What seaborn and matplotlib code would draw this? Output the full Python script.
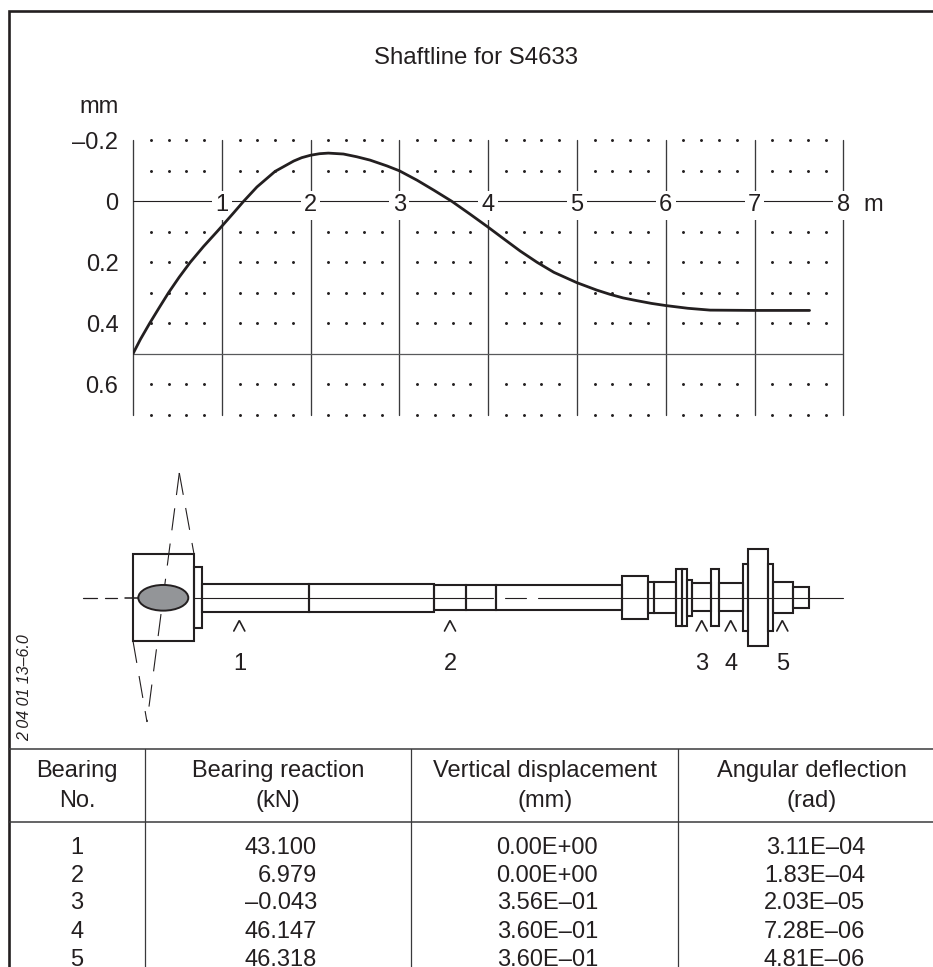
import matplotlib
matplotlib.use("Agg")
import matplotlib.pyplot as plt
from matplotlib.patches import Rectangle, Ellipse
import numpy as np
import pandas as pd
import seaborn as sns

# ---- data ----
curve_x = [0, 0.083, 0.188, 0.295, 0.40, 0.52, 0.645, 0.795, 0.945, 1.0, 1.133, 1.246, 1.396, 1.60, 1.81, 1.90, 2.0, 2.10, 2.2, 2.37,
           2.52, 2.67, 2.86, 3.0, 3.2, 3.39, 3.59, 3.8, 4.0, 4.17, 4.36, 4.55, 4.74, 5.0, 5.22, 5.37, 5.52, 5.675,
           5.84, 6.0, 6.25, 6.5, 7.0, 7.62]
curve_y = [0.5, 0.453, 0.40, 0.349, 0.30, 0.249, 0.20, 0.148, 0.10, 0.082, 0.038, 0.0, -0.047, -0.098, -0.132, -0.143, -0.151, -0.156, -0.158, -0.155,
           -0.146, -0.135, -0.116, -0.10, -0.069, -0.036, 0.0, 0.043, 0.085, 0.122, 0.163, 0.20, 0.233, 0.267, 0.291, 0.305, 0.317, 0.326,
           0.335, 0.342, 0.351, 0.357, 0.358, 0.358]
y_ticks = [-0.2, 0, 0.2, 0.4, 0.6]
y_tick_labels = ["–0.2", "0", "0.2", "0.4", "0.6"]
x_numbers = [1, 2, 3, 4, 5, 6, 7, 8]
dot_x = [i + f for i in range(8) for f in (0.2, 0.4, 0.6, 0.8)]
dot_y = [-0.2, -0.1, 0.1, 0.2, 0.3, 0.4, 0.6, 0.7]

bearing_no = ["1", "2", "3", "4", "5"]
reaction = ["43.100", "6.979", "–0.043", "46.147", "46.318"]
displacement = ["0.00E+00", "0.00E+00", "3.56E–01", "3.60E–01", "3.60E–01"]
deflection = ["3.11E–04", "1.83E–04", "2.03E–05", "7.28E–06", "4.81E–06"]
headers = [("Bearing", "No."), ("Bearing reaction", "(kN)"),
           ("Vertical displacement", "(mm)"), ("Angular deflection", "(rad)")]

# shaft sections: left, right, top, bottom (drawing units)
shaft_boxes = [
    (132.7, 194, 554.3, 641), (194, 201.7, 566.7, 628.3), (201.7, 309, 584, 611.5),
    (309, 434, 584, 611.5), (434, 465.7, 585, 610.3), (465.7, 495.5, 585, 610.3),
    (495.5, 622.3, 584.7, 610.3), (622.3, 647.7, 575.7, 619.3), (647.7, 654.3, 582, 612.7),
    (654.3, 676.3, 582, 612.7), (676.3, 681.7, 569.3, 626), (681.7, 687, 569.3, 626),
    (687, 691.7, 579.7, 616), (691.7, 710.7, 583.3, 611.3), (710.7, 718.7, 569.3, 626),
    (718.7, 742.7, 583.3, 611.3), (742.7, 748, 564, 631), (748, 767.7, 549, 646),
    (767.7, 773, 564, 631), (773, 792.7, 582, 612.7), (792.7, 809.3, 587.3, 608),
]
caret_x = [239.3, 450, 701.7, 730.7, 782.3]
caret_labels = ["1", "2", "3", "4", "5"]
label_x = [240, 450, 702, 731, 783]

sns.set_style("white")
plt.rcParams["font.family"] = ["Liberation Sans", "DejaVu Sans"]
INK = "#231f20"
FS = 17
W, H = 933, 967

fig = plt.figure(figsize=(W / 100, H / 100), dpi=100, facecolor="white")

# ---- overlay in pixel-like drawing units ----
ov = fig.add_axes([0, 0, 1, 1])
ov.set_xlim(0, W)
ov.set_ylim(H, 0)
ov.axis("off")
ov.plot([9, 9, W], [H, 10.5, 10.5], color=INK, lw=1.9, solid_joinstyle="miter")
ov.text(476, 58, "Shaftline for S4633", ha="center", va="center", fontsize=17.3, color=INK)
ov.text(99.5, 107, "mm", ha="center", va="center", fontsize=FS, color=INK)
ov.text(873, 205, "m", ha="center", va="center", fontsize=FS, color=INK)

# shaft drawing
LW = 1.5
ov.plot([83, 97], [597.7, 597.7], color=INK, lw=0.9)
ov.plot([105, 117], [597.7, 597.7], color=INK, lw=0.9)
ov.plot([125, 138], [597.7, 597.7], color=INK, lw=1.1)
for seg in [(194, 493), (505, 526), (538, 843.3)]:
    ov.plot(seg, [597.7, 597.7], color=INK, lw=0.8, zorder=2)
for l, r, t, b in shaft_boxes:
    ov.add_patch(Rectangle((l, t), r - l, b - t, fill=False, ec=INK, lw=LW, zorder=3))
ov.add_patch(Ellipse((163.3, 597.8), 50, 25.7, fc="#939598", ec=INK, lw=1.4, zorder=4))
dash = (0, (20, 12))
ov.plot([179.3, 147], [473, 722], color=INK, lw=0.8, ls=dash, zorder=1)
ov.plot([179.3, 194], [473, 554], color=INK, lw=0.8, ls=dash, zorder=1)
ov.plot([133, 147], [641, 722], color=INK, lw=0.8, ls=dash, zorder=1)
for cx in caret_x:
    ov.plot([cx - 5.5, cx, cx + 5.5], [631, 620.5, 631], color=INK, lw=1.2, solid_joinstyle="miter")
for lx, s in zip(label_x, caret_labels):
    ov.text(lx, 664, s, ha="center", va="center", fontsize=FS, color=INK)
ov.text(24.5, 688, "2 04 01 13–6.0", rotation=90, ha="center", va="center",
        fontsize=11.5, style="italic", color=INK)

# table
for y in (749, 822):
    ov.plot([9, W], [y, y], color="#3a3a3c", lw=1.1)
for x in (145, 411, 678):
    ov.plot([x, x], [749, H], color="#3a3a3c", lw=0.9)
for cx, (a, b) in zip((77, 278, 545, 812), headers):
    ov.text(cx, 771, a, ha="center", va="center", fontsize=FS, color=INK)
    ov.text(cx, 801, b, ha="center", va="center", fontsize=FS, color=INK)
row_y = [847.5, 875.5, 903, 932, 960]
for i, y in enumerate(row_y):
    ov.text(77, y, bearing_no[i], ha="center", va="center", fontsize=FS, color=INK)
    ov.text(317, y, reaction[i], ha="right", va="center", fontsize=FS, color=INK)
    ov.text(598, y, displacement[i], ha="right", va="center", fontsize=FS, color=INK)
    ov.text(865, y, deflection[i], ha="right", va="center", fontsize=FS, color=INK)

# ---- main plot ----
L, R, T, B = 133, 843.3, 140.3, 414.7
ax = fig.add_axes([L / W, 1 - B / H, (R - L) / W, (B - T) / H])
ax.patch.set_alpha(0)
for s in ax.spines.values():
    s.set_visible(False)
ax.set_xlim(0, 8)
ax.set_ylim(0.7, -0.2)
ax.set_xticks([])
ax.set_yticks(y_ticks, y_tick_labels, fontsize=FS, color=INK)
ax.tick_params(axis="y", length=0, pad=10.5)

for x in range(9):
    ax.axvline(x, color="#3a3a3c", lw=0.95, zorder=1, clip_on=False)
ax.axhline(0, color=INK, lw=0.8, zorder=1)
ax.axhline(0.5, color="#58595b", lw=0.9, zorder=1)

dots = pd.DataFrame([(x, y) for x in dot_x for y in dot_y], columns=["x", "y"])
sns.scatterplot(data=dots, x="x", y="y", ax=ax, s=4.5, color=INK, marker="o", linewidth=0,
                zorder=2, legend=False, clip_on=False)
for n in x_numbers:
    ax.text(n, 0.013, str(n), ha="center", va="center", fontsize=FS, color=INK, zorder=3,
            bbox=dict(boxstyle="square,pad=0.14", fc="white", ec="none"), clip_on=False)
line = pd.DataFrame({"x": curve_x, "y": curve_y})
sns.lineplot(data=line, x="x", y="y", ax=ax, color=INK, lw=2.0, sort=False, estimator=None,
             errorbar=None, zorder=4, legend=False)
ax.set_xlabel("")
ax.set_ylabel("")

fig.savefig("out.png", dpi=100, facecolor="white")
